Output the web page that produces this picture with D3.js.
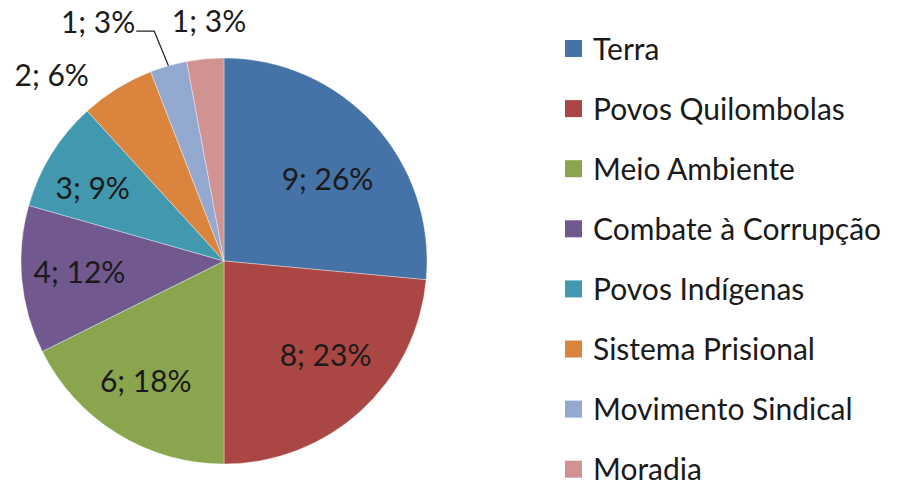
<!DOCTYPE html>
<html>
<head>
<meta charset="utf-8">
<script src="https://cdn.jsdelivr.net/npm/d3@7"></script>
<style>
  body { margin: 0; background: #fff; }
  svg { display: block; font-family: Lato, "Noto Sans", sans-serif; }
</style>
</head>
<body>
<svg id="chart" width="906" height="483"></svg>
<script>
// data
var categories = ["Terra", "Povos Quilombolas", "Meio Ambiente", "Combate à Corrupção",
                  "Povos Indígenas", "Sistema Prisional", "Movimento Sindical", "Moradia"];
var counts = [9, 8, 6, 4, 3, 2, 1, 1];
var percents = [26, 23, 18, 12, 9, 6, 3, 3]; // as printed (sums to 100)
var colors = ["#4572A7", "#AA4643", "#89A54E", "#71588F", "#4198AF", "#DB843D", "#93A9CF", "#D19392"];

var svg = d3.select("#chart");
var cx = 224, cy = 261, R = 203;

var data = categories.map(function(c, i) {
  return {name: c, value: counts[i], pct: percents[i], color: colors[i]};
});

var pie = d3.pie().value(d => d.value).sort(null);
var arcs = pie(data);
var arc = d3.arc().innerRadius(0).outerRadius(R);

var g = svg.append("g").attr("transform", "translate(" + cx + "," + cy + ")");

g.selectAll("path")
  .data(arcs)
  .join("path")
  .attr("d", arc)
  .attr("fill", d => d.data.color)
  .attr("stroke", "#fff")
  .attr("stroke-width", 0.6)
  .attr("stroke-opacity", 0.6);

// label placement (radius, angle nudge) - like excel "best fit"
var labelPlace = [[132, 0.07], [139, -0.08], [144, 0.02], [145, 0.01], [150, -0.05],
                  [253, -0.195], [270, -0.208], [240, 0.03]];
function polar(a, r) { return [r * Math.sin(a), -r * Math.cos(a)]; }

var labels = g.append("g").attr("font-size", 30).attr("fill", "#1a1a1a");
arcs.forEach(function(d, i) {
  var mid = (d.startAngle + d.endAngle) / 2;
  var p = polar(mid + labelPlace[i][1], labelPlace[i][0]);
  var t = labels.append("text")
    .attr("x", p[0]).attr("y", p[1])
    .attr("text-anchor", "middle")
    .attr("dy", "0.35em")
    .text(d.data.value + "; " + d.data.pct + "%");
  if (i == 6) { //leader line for the small one
    var bb = t.node().getBBox();
    var edge = polar(mid, R);
    var x0 = bb.x + bb.width + 1, y0 = p[1] + 9;
    g.append("path")
      .attr("d", d3.line()([[x0, y0], [x0 + 18, y0], edge]))
      .attr("fill", "none").attr("stroke", "#222").attr("stroke-width", 1.2);
  }
});

// legend
var legend = svg.append("g").attr("transform", "translate(565,49)");
var items = legend.selectAll("g").data(data).join("g")
  .attr("transform", (d, i) => "translate(0," + i * 60.1 + ")");
items.append("rect").attr("x", 0).attr("y", -9).attr("width", 17).attr("height", 17)
  .attr("fill", d => d.color);
items.append("text").attr("x", 28).attr("dy", "0.35em").attr("font-size", 30)
  .attr("fill", "#1a1a1a").text(d => d.name);
</script>
</body>
</html>
